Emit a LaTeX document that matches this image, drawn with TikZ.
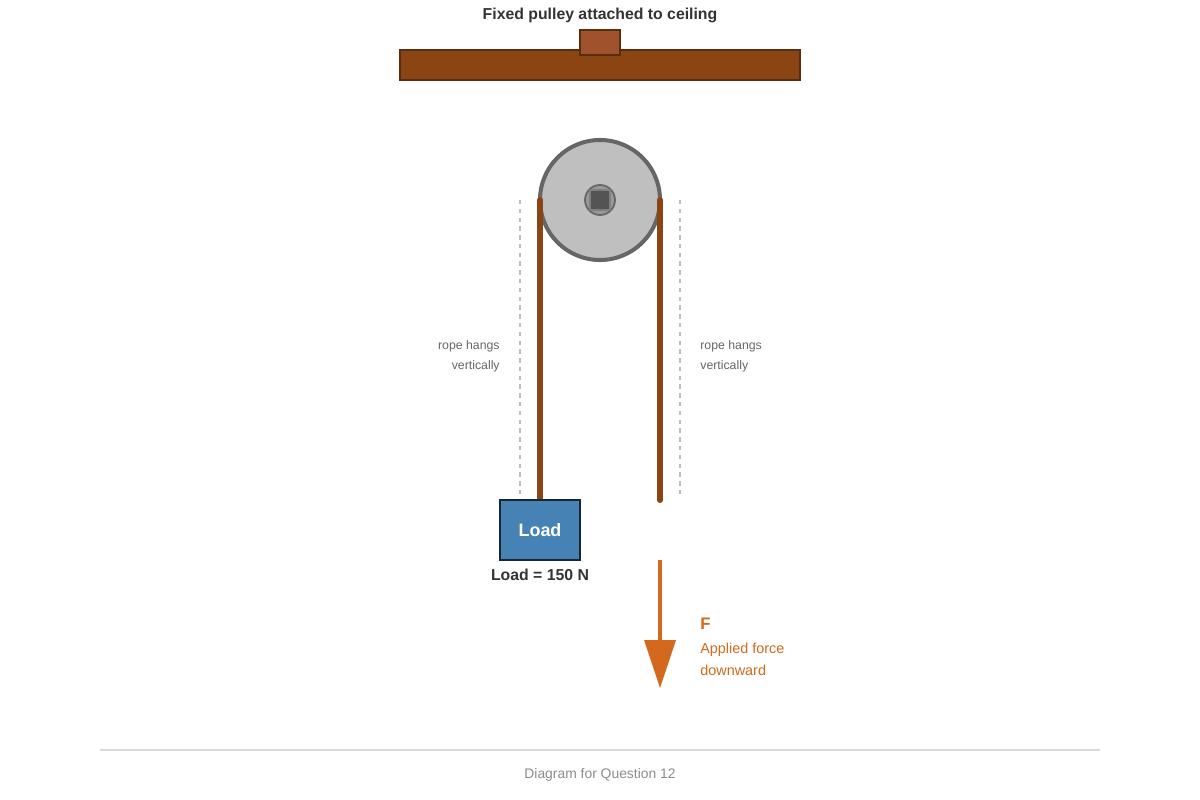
\documentclass[tikz,border=0pt]{standalone}
\usepackage{fontspec}
\setmainfont{Liberation Sans}
\begin{document}
\begin{tikzpicture}[x=0.02cm,y=-0.02cm,
  lbl/.style={font=\fontsize{7}{9}\selectfont,text=black!60,inner sep=0},
  frc/.style={font=\fontsize{8.2}{10}\selectfont,text=force,inner sep=0,anchor=west},
  rope/.style={draw=beam,line width=3.4pt,line cap=round},
  guide/.style={draw=black!25,dash pattern=on 2.5pt off 2.5pt,line width=0.6pt}]
\definecolor{beam}{HTML}{8B4513}
\definecolor{beamd}{HTML}{5A2D0C}
\definecolor{sienna}{HTML}{A0522D}
\definecolor{steel}{HTML}{4682B4}
\definecolor{force}{HTML}{D2691E}
\useasboundingbox (0,0) rectangle (1200,800);
\node[font=\fontsize{9}{11}\selectfont\bfseries,text=black!80] (title) at (600,15) {Fixed pulley attached to ceiling};
\draw[fill=beam,draw=beamd,line width=1pt] (400,50) rectangle (800,80);
\draw[fill=sienna,draw=beamd,line width=1pt] (580,30) rectangle (620,55);
\node[circle,minimum size=120*0.02cm,inner sep=0,fill=black!25,draw=black!60,line width=2.3pt] (pulley) at (600,200) {};
\node[circle,minimum size=30*0.02cm,inner sep=0,fill=black!40,draw=black!60,line width=1pt] (hub) at (600,200) {};
\draw[fill=black!67,draw=black!50,line width=0.6pt] (590,190) rectangle (610,210);
\coordinate (lt) at (540,200); \coordinate (lb) at (540,500);
\coordinate (rt) at (660,200); \coordinate (rb) at (660,500);
\draw[rope] (lt) -- (lb);
\draw[rope] (rt) -- (rb);
\draw[guide] (520,200) -- (520,495);
\draw[guide] (680,200) -- (680,495);
\node[lbl,anchor=east] (ll1) at (500,346) {rope hangs};
\node[lbl,anchor=east] (ll2) at (500,366) {vertically};
\node[lbl,anchor=west] (rl1) at (700,346) {rope hangs};
\node[lbl,anchor=west] (rl2) at (700,366) {vertically};
\node[draw=black!70!steel,fill=steel,line width=1pt,minimum width=80*0.02cm,minimum height=60*0.02cm,inner sep=0,text=white,font=\fontsize{10.2}{12}\selectfont\bfseries] (load) at (540,530) {Load};
\node[font=\fontsize{9}{11}\selectfont\bfseries,text=black!80] (lv) at (540,575) {Load = 150 N};
\coordinate (fa) at (660,560); \coordinate (fb) at (660,642);
\draw[force,line width=2.3pt] (fa) -- (fb);
\fill[force] (644,640) -- (676,640) -- (660,688) -- cycle;
\node[frc,font=\fontsize{9.5}{11}\selectfont\bfseries] (F) at (700,624) {F};
\node[frc] (f1) at (700,650) {Applied force};
\node[frc] (f2) at (700,670) {downward};
\draw[black!15,line width=1pt] (100,750) -- (1100,750);
\node[font=\fontsize{7.9}{10}\selectfont,text=black!45] (cap) at (600,775) {Diagram for Question 12};
\end{tikzpicture}
\end{document}
